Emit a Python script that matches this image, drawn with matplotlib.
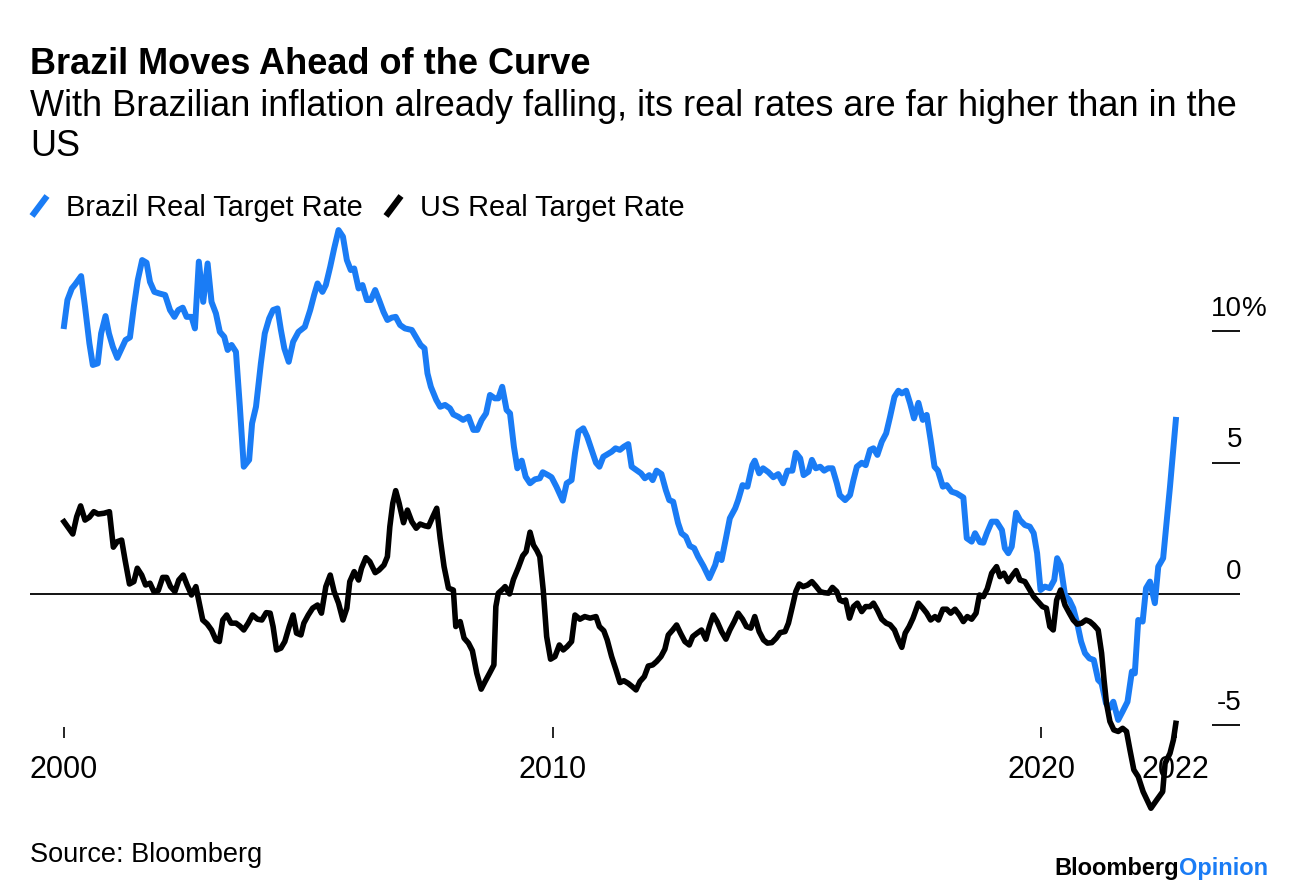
import matplotlib
matplotlib.use('Agg')
import matplotlib.pyplot as plt
import matplotlib.transforms as mtransforms
from matplotlib.lines import Line2D

plt.rcParams['font.family'] = ['Liberation Sans', 'DejaVu Sans']

# Brazil real target rate (%), dates in decimal years
brazil_t = [2000.00, 2000.07, 2000.16, 2000.23, 2000.35, 2000.43, 2000.52, 2000.59, 2000.69, 2000.76,
            2000.85, 2000.92, 2001.00, 2001.09, 2001.18, 2001.26, 2001.35, 2001.43, 2001.51, 2001.60,
            2001.69, 2001.76, 2001.85, 2001.95, 2002.07, 2002.17, 2002.26, 2002.34, 2002.43, 2002.51,
            2002.61, 2002.68, 2002.76, 2002.85, 2002.94, 2003.02, 2003.11, 2003.19, 2003.28, 2003.35,
            2003.43, 2003.52, 2003.60, 2003.68, 2003.79, 2003.85, 2003.93, 2004.03, 2004.11, 2004.20,
            2004.28, 2004.37, 2004.44, 2004.51, 2004.60, 2004.69, 2004.80, 2004.93, 2005.04, 2005.12,
            2005.19, 2005.29, 2005.36, 2005.45, 2005.53, 2005.62, 2005.71, 2005.79, 2005.87, 2005.94,
            2006.03, 2006.11, 2006.20, 2006.28, 2006.37, 2006.45, 2006.54, 2006.62, 2006.71, 2006.79,
            2006.88, 2006.98, 2007.12, 2007.22, 2007.30, 2007.38, 2007.44, 2007.51, 2007.62, 2007.70,
            2007.80, 2007.90, 2007.97, 2008.07, 2008.17, 2008.28, 2008.38, 2008.46, 2008.55, 2008.64,
            2008.72, 2008.82, 2008.89, 2008.97, 2009.06, 2009.13, 2009.21, 2009.28, 2009.37, 2009.45,
            2009.54, 2009.64, 2009.74, 2009.80, 2009.91, 2009.98, 2010.08, 2010.21, 2010.29, 2010.39,
            2010.46, 2010.53, 2010.63, 2010.71, 2010.80, 2010.89, 2010.96, 2011.04, 2011.12, 2011.21,
            2011.29, 2011.38, 2011.46, 2011.55, 2011.62, 2011.72, 2011.81, 2011.89, 2011.98, 2012.05,
            2012.13, 2012.23, 2012.32, 2012.39, 2012.47, 2012.57, 2012.64, 2012.73, 2012.81, 2012.90,
            2012.98, 2013.09, 2013.21, 2013.33, 2013.39, 2013.46, 2013.55, 2013.63, 2013.74, 2013.80,
            2013.89, 2013.99, 2014.09, 2014.14, 2014.23, 2014.31, 2014.42, 2014.52, 2014.62, 2014.72,
            2014.81, 2014.91, 2014.98, 2015.07, 2015.14, 2015.24, 2015.31, 2015.39, 2015.48, 2015.56,
            2015.64, 2015.73, 2015.82, 2015.88, 2015.99, 2016.09, 2016.16, 2016.23, 2016.33, 2016.41,
            2016.50, 2016.57, 2016.65, 2016.74, 2016.83, 2016.91, 2017.00, 2017.08, 2017.15, 2017.24,
            2017.32, 2017.40, 2017.49, 2017.58, 2017.66, 2017.74, 2017.82, 2017.89, 2017.99, 2018.07,
            2018.17, 2018.27, 2018.41, 2018.48, 2018.58, 2018.65, 2018.75, 2018.82, 2018.89, 2018.99,
            2019.09, 2019.20, 2019.26, 2019.33, 2019.40, 2019.49, 2019.57, 2019.67, 2019.77, 2019.85,
            2019.92, 2019.99, 2020.08, 2020.18, 2020.27, 2020.33, 2020.40, 2020.49, 2020.58, 2020.66,
            2020.74, 2020.82, 2020.90, 2020.99, 2021.08, 2021.17, 2021.24, 2021.33, 2021.40, 2021.48,
            2021.58, 2021.67, 2021.77, 2021.86, 2021.92, 2021.99, 2022.08, 2022.15, 2022.23, 2022.33,
            2022.40, 2022.50, 2022.64, 2022.76]
brazil_v = [10.19, 11.18, 11.62, 11.78, 12.09, 10.93, 9.53, 8.71, 8.77, 9.91,
            10.57, 9.91, 9.40, 8.98, 9.34, 9.66, 9.76, 10.93, 11.94, 12.70,
            12.60, 11.87, 11.49, 11.43, 11.37, 10.80, 10.54, 10.80, 10.89, 10.54,
            10.54, 10.10, 12.64, 11.11, 12.57, 11.11, 10.67, 9.97, 9.78, 9.28,
            9.47, 9.21, 7.12, 4.84, 5.10, 6.49, 7.12, 8.77, 9.91, 10.48,
            10.80, 10.86, 10.04, 9.34, 8.83, 9.59, 9.97, 10.16, 10.80, 11.37,
            11.81, 11.49, 11.75, 12.45, 13.14, 13.84, 13.59, 12.70, 12.32, 12.38,
            11.62, 11.75, 11.18, 11.18, 11.56, 11.18, 10.73, 10.42, 10.51, 10.54,
            10.23, 10.10, 10.04, 9.72, 9.47, 9.34, 8.39, 7.88, 7.38, 7.12,
            7.19, 7.06, 6.83, 6.74, 6.62, 6.74, 6.24, 6.24, 6.62, 6.87,
            7.57, 7.44, 7.44, 7.88, 7.00, 6.87, 5.60, 4.78, 5.07, 4.46,
            4.21, 4.36, 4.40, 4.63, 4.52, 4.44, 4.08, 3.55, 4.21, 4.33,
            5.35, 6.17, 6.30, 5.98, 5.48, 4.99, 4.84, 5.22, 5.31, 5.41,
            5.54, 5.48, 5.60, 5.70, 4.84, 4.71, 4.59, 4.40, 4.52, 4.33,
            4.69, 4.56, 3.95, 3.57, 3.51, 2.70, 2.31, 2.18, 1.83, 1.74,
            1.42, 1.06, 0.60, 1.10, 1.52, 1.29, 2.12, 2.88, 3.26, 3.57,
            4.14, 4.08, 4.90, 5.07, 4.59, 4.78, 4.63, 4.44, 4.56, 4.21,
            4.69, 4.69, 5.37, 5.16, 4.52, 4.65, 5.10, 4.78, 4.84, 4.69,
            4.78, 4.78, 4.21, 3.76, 3.57, 3.76, 4.33, 4.84, 4.99, 4.90,
            5.48, 5.54, 5.29, 5.79, 6.11, 6.74, 7.50, 7.73, 7.63, 7.73,
            7.25, 6.68, 7.27, 6.62, 6.81, 5.86, 4.84, 4.69, 4.08, 4.14,
            3.89, 3.83, 3.67, 2.12, 1.99, 2.31, 1.97, 1.95, 2.31, 2.75,
            2.75, 2.43, 1.74, 1.55, 1.80, 3.09, 2.81, 2.62, 2.56, 2.31,
            1.55, 0.15, 0.28, 0.22, 0.53, 1.36, 1.10, -0.04, -0.23, -0.54,
            -1.11, -1.81, -2.25, -2.45, -2.51, -3.27, -3.40, -4.16, -4.35, -4.10,
            -4.79, -4.47, -4.10, -2.95, -3.02, -0.99, -1.05, 0.22, 0.47, -0.35,
            1.04, 1.36, 4.08, 6.62]

# US real target rate (%)
us_t = [2000.00, 2000.18, 2000.26, 2000.34, 2000.43, 2000.52, 2000.61, 2000.70, 2000.82, 2000.93,
        2001.01, 2001.09, 2001.18, 2001.25, 2001.34, 2001.43, 2001.50, 2001.59, 2001.67, 2001.76,
        2001.84, 2001.93, 2002.02, 2002.10, 2002.18, 2002.27, 2002.35, 2002.44, 2002.52, 2002.61,
        2002.70, 2002.77, 2002.84, 2002.93, 2003.02, 2003.11, 2003.18, 2003.25, 2003.33, 2003.42,
        2003.52, 2003.60, 2003.68, 2003.77, 2003.86, 2003.96, 2004.05, 2004.14, 2004.22, 2004.28,
        2004.35, 2004.44, 2004.52, 2004.61, 2004.69, 2004.76, 2004.85, 2004.91, 2005.00, 2005.09,
        2005.19, 2005.27, 2005.36, 2005.45, 2005.53, 2005.62, 2005.71, 2005.79, 2005.85, 2005.94,
        2006.03, 2006.09, 2006.18, 2006.26, 2006.37, 2006.45, 2006.55, 2006.62, 2006.67, 2006.73,
        2006.79, 2006.86, 2006.95, 2007.03, 2007.12, 2007.21, 2007.29, 2007.39, 2007.46, 2007.55,
        2007.63, 2007.70, 2007.78, 2007.87, 2007.97, 2008.02, 2008.11, 2008.19, 2008.28, 2008.36,
        2008.45, 2008.54, 2008.62, 2008.71, 2008.80, 2008.84, 2008.89, 2008.99, 2009.03, 2009.12,
        2009.20, 2009.30, 2009.39, 2009.46, 2009.54, 2009.61, 2009.68, 2009.74, 2009.81, 2009.88,
        2009.96, 2010.05, 2010.14, 2010.22, 2010.30, 2010.39, 2010.46, 2010.56, 2010.66, 2010.77,
        2010.89, 2010.96, 2011.05, 2011.12, 2011.21, 2011.30, 2011.38, 2011.46, 2011.55, 2011.63,
        2011.71, 2011.79, 2011.88, 2011.96, 2012.05, 2012.13, 2012.22, 2012.30, 2012.37, 2012.46,
        2012.54, 2012.62, 2012.71, 2012.80, 2012.87, 2012.96, 2013.05, 2013.14, 2013.21, 2013.29,
        2013.37, 2013.46, 2013.55, 2013.63, 2013.72, 2013.80, 2013.89, 2013.97, 2014.06, 2014.14,
        2014.23, 2014.32, 2014.40, 2014.49, 2014.58, 2014.66, 2014.76, 2014.83, 2014.91, 2014.98,
        2015.05, 2015.13, 2015.22, 2015.31, 2015.39, 2015.48, 2015.56, 2015.65, 2015.73, 2015.82,
        2015.88, 2015.95, 2016.00, 2016.08, 2016.16, 2016.24, 2016.33, 2016.41, 2016.50, 2016.57,
        2016.65, 2016.74, 2016.83, 2016.91, 2017.00, 2017.08, 2017.15, 2017.22, 2017.30, 2017.38,
        2017.49, 2017.58, 2017.66, 2017.74, 2017.83, 2017.90, 2017.99, 2018.07, 2018.15, 2018.24,
        2018.33, 2018.41, 2018.49, 2018.58, 2018.67, 2018.74, 2018.82, 2018.90, 2018.99, 2019.09,
        2019.16, 2019.24, 2019.33, 2019.42, 2019.49, 2019.57, 2019.67, 2019.77, 2019.85, 2019.94,
        2020.03, 2020.11, 2020.18, 2020.25, 2020.32, 2020.40, 2020.49, 2020.58, 2020.66, 2020.74,
        2020.83, 2020.92, 2021.00, 2021.08, 2021.17, 2021.24, 2021.29, 2021.34, 2021.41, 2021.49,
        2021.58, 2021.67, 2021.75, 2021.82, 2021.90, 2021.99, 2022.09, 2022.25, 2022.37, 2022.49,
        2022.54, 2022.64, 2022.71, 2022.76]
us_v = [2.75, 2.28, 2.94, 3.35, 2.81, 2.92, 3.13, 3.04, 3.07, 3.13,
        1.78, 1.99, 2.05, 1.29, 0.38, 0.47, 0.98, 0.72, 0.34, 0.41,
        0.09, 0.13, 0.63, 0.63, 0.28, 0.09, 0.53, 0.72, 0.34, -0.04,
        0.28, -0.35, -0.99, -1.14, -1.37, -1.75, -1.81, -0.99, -0.80, -1.11,
        -1.11, -1.22, -1.37, -1.11, -0.80, -0.96, -0.99, -0.71, -0.73, -1.24,
        -2.13, -2.06, -1.81, -1.24, -0.80, -1.49, -1.56, -1.11, -0.80, -0.54,
        -0.42, -0.73, 0.28, 0.72, 0.09, -0.35, -0.99, -0.54, 0.47, 0.85,
        0.53, 0.98, 1.38, 1.23, 0.81, 0.91, 1.10, 1.42, 2.56, 3.45,
        3.93, 3.45, 2.71, 3.19, 2.75, 2.50, 2.66, 2.59, 2.56, 2.94,
        3.26, 2.12, 1.04, 0.22, 0.15, -1.24, -1.05, -1.68, -1.87, -2.16,
        -3.02, -3.62, -3.33, -3.02, -2.70, -0.48, 0.03, 0.20, 0.28, 0.00,
        0.55, 1.00, 1.45, 1.61, 2.35, 1.86, 1.65, 1.42, 0.15, -1.62,
        -2.48, -2.38, -1.94, -2.13, -2.00, -1.81, -0.80, -0.96, -0.86, -0.92,
        -0.86, -1.24, -1.40, -1.75, -2.38, -2.89, -3.37, -3.30, -3.40, -3.52,
        -3.65, -3.33, -3.14, -2.74, -2.70, -2.57, -2.38, -2.10, -1.56, -1.37,
        -1.18, -1.49, -1.81, -1.94, -1.62, -1.49, -1.37, -1.72, -1.24, -0.80,
        -1.05, -1.43, -1.72, -1.37, -1.05, -0.73, -0.96, -1.24, -1.30, -0.86,
        -1.43, -1.75, -1.87, -1.85, -1.68, -1.47, -1.43, -1.11, -0.48, 0.09,
        0.38, 0.28, 0.34, 0.47, 0.30, 0.09, 0.05, 0.03, 0.25, 0.09,
        -0.23, -0.29, -0.23, -0.92, -0.48, -0.35, -0.67, -0.48, -0.48, -0.35,
        -0.61, -0.96, -1.11, -1.17, -1.37, -1.75, -2.03, -1.49, -1.24, -0.92,
        -0.35, -0.54, -0.73, -0.99, -0.86, -0.99, -0.58, -0.58, -0.73, -0.58,
        -0.80, -1.05, -0.86, -0.96, -0.73, -0.04, -0.10, 0.20, 0.79, 1.04,
        0.66, 0.79, 0.47, 0.72, 0.89, 0.53, 0.47, 0.15, -0.10, -0.29,
        -0.48, -0.54, -1.24, -1.37, -0.23, 0.15, -0.42, -0.73, -0.99, -1.15,
        -1.11, -0.99, -1.05, -1.18, -1.37, -2.25, -3.27, -4.16, -4.85, -5.17,
        -5.23, -5.11, -5.23, -5.93, -6.69, -6.95, -7.52, -8.15, -7.83, -7.52,
        -6.44, -6.06, -5.55, -4.92]

xtick_pos = [2000, 2010, 2020, 2022.76]
xtick_labels = ['2000', '2010', '2020', '2022']
ytick_pos = [-5, 0, 5, 10]
ytick_labels = ['-5', '0', '5', '10']

BLUE = '#1a7cf5'
W, H = 1296, 892

fig = plt.figure(figsize=(W / 100, H / 100), dpi=100)
ax = fig.add_axes([30 / W, 165 / H, 1182 / W, 514 / H])
ax.set_xlim(1999.304, 2023.50)
ax.set_ylim(-5.06, 14.49)

ax.axhline(0, color='black', lw=1.3, zorder=1)
ax.plot(brazil_t, brazil_v, color=BLUE, lw=4.3, clip_on=False, zorder=3)
ax.plot(us_t, us_v, color='black', lw=4.0, clip_on=False, zorder=4)

for s in ax.spines.values():
    s.set_visible(False)

ax.set_xticks(xtick_pos, xtick_labels)
ax.tick_params(axis='x', direction='out', length=8, width=1.2, pad=12, labelsize=22)
ax.yaxis.tick_right()
ax.set_yticks(ytick_pos)
ax.tick_params(axis='y', direction='out', length=20, width=1.3, labelright=False, labelleft=False)

# right axis labels sit above the tick marks
trans = mtransforms.blended_transform_factory(ax.transAxes, ax.transData)
for v, lab in zip(ytick_pos, ytick_labels):
    ax.annotate(lab, xy=(1, v), xycoords=trans, xytext=(21.5, 11), textcoords='offset points',
                ha='right', va='baseline', fontsize=20, annotation_clip=False)
ax.annotate('%', xy=(1, 10), xycoords=trans, xytext=(21.5, 11), textcoords='offset points',
            ha='left', va='baseline', fontsize=20, annotation_clip=False)

# titles
fig.text(30 / W, 1 - 74 / H, 'Brazil Moves Ahead of the Curve', fontsize=26, fontweight='bold', va='baseline')
fig.text(30 / W, 1 - 116 / H, 'With Brazilian inflation already falling, its real rates are far higher than in the',
         fontsize=26, va='baseline')
fig.text(30 / W, 1 - 156 / H, 'US', fontsize=26, va='baseline')

# legend
fig.add_artist(Line2D([32 / W, 47 / W], [1 - 216 / H, 1 - 196 / H], color=BLUE, lw=4.5, solid_capstyle='butt'))
fig.text(66 / W, 1 - 216 / H, 'Brazil Real Target Rate', fontsize=20.8, va='baseline')
fig.add_artist(Line2D([386 / W, 401 / W], [1 - 216 / H, 1 - 196 / H], color='black', lw=4.5, solid_capstyle='butt'))
fig.text(420 / W, 1 - 216 / H, 'US Real Target Rate', fontsize=20.8, va='baseline')

# footer
fig.text(30 / W, 1 - 862 / H, 'Source: Bloomberg', fontsize=19.5, va='baseline')
op = fig.text(1268 / W, 1 - 875 / H, 'Opinion', fontsize=17, fontweight='bold', color=BLUE,
              ha='right', va='baseline')
fig.canvas.draw()
bb = op.get_window_extent()
fig.text(bb.x0 / W, 1 - 875 / H, 'Bloomberg', fontsize=17, fontweight='bold', color='black',
         ha='right', va='baseline')

fig.savefig('out.png', dpi=100)
